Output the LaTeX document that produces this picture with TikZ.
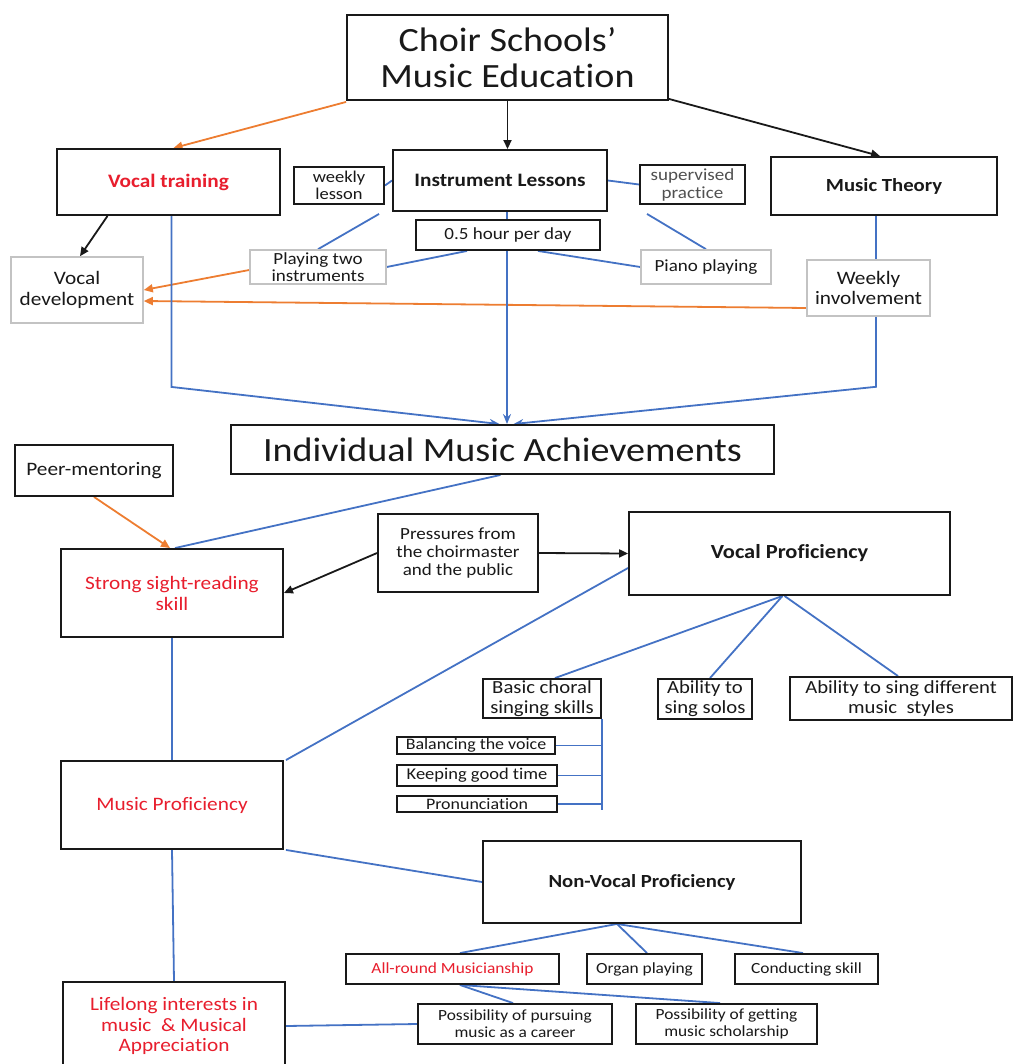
\documentclass[tikz,border=0pt]{standalone}
\usepackage{fontspec}
\setmainfont{Carlito}[FakeStretch=1.12, Ligatures=NoCommon]
\usetikzlibrary{arrows.meta,backgrounds}
\definecolor{ink}{RGB}{25,25,25}
\definecolor{myred}{RGB}{232,30,45}
\definecolor{myorange}{RGB}{237,125,49}
\definecolor{myblue}{RGB}{68,114,196}
\definecolor{mygrey}{RGB}{195,195,195}
\definecolor{softink}{RGB}{80,80,80}
\newcommand\nolig{\kern0pt{}}
\tikzset{
  box/.style={draw=ink, line width=1.9pt, fill=white, inner sep=0pt, align=center, text=ink},
  gbox/.style={box, draw=mygrey, line width=1.6pt},
  fsz/.style 2 args={font=\fontsize{#1}{#2}\selectfont},
  fszb/.style 2 args={font=\fontsize{#1}{#2}\selectfont\bfseries},
  wh/.style 2 args={minimum width=#1pt, minimum height=#2pt},
  redtxt/.style={text=myred},
  bline/.style={draw=myblue, line width=1.8pt},
  barrow/.style={bline, -{Stealth[length=10pt,width=8pt]}},
  karrow/.style={draw=ink, line width=1.8pt, -{Triangle[length=9pt,width=8pt]}},
  oarrow/.style={draw=myorange, line width=1.8pt, -{Triangle[length=9pt,width=8pt]}}
}
\begin{document}
\begin{tikzpicture}[x=1pt,y=-1pt]
\useasboundingbox (0,0) rectangle (1013,1064);
% nodes
\node[box, wh={321}{85}, fsz={34}{36}] (title) at (507.5,57.5) {Choir Schools’\\Music Educat\nolig ion};
\node[box, wh={223}{66}, fszb={19}{21}, redtxt] (vt) at (168.5,182) {Vocal training};
\node[box, wh={90}{37}, fsz={16.5}{17}] (wl) at (339,185.5) {weekly\\lesson};
\node[box, wh={214}{61}, fszb={19}{21}] (il) at (500,180.5) {Instrument Lessons};
\node[box, wh={105}{39}, fsz={17}{18}, text=softink] (sp) at (692.5,184.5) {supervised\\pract\nolig ice};
\node[box, wh={226}{58}, fszb={18.5}{21}] (mt) at (884,186) {Music Theory};
\node[box, wh={184}{30}, fsz={17}{18}] (hpd) at (508,235) {0.5 hour per day};
\node[gbox, wh={136}{34}, fsz={17}{17}] (pti) at (318,267) {Playing two\\instruments};
\node[gbox, wh={130}{34}, fsz={17}{18}] (pp) at (706,267) {Piano playing};
\node[gbox, wh={132}{66}, fsz={19}{21}] (vd) at (77,290) {Vocal\\development};
\node[gbox, wh={123}{56}, fsz={19}{20}] (wi) at (868.5,288) {Weekly\\involvement};
\node[box, wh={543}{49}, fsz={34}{36}] (ima) at (502.5,449.5) {Individual Music Achievements};
\node[box, wh={158}{51}, fsz={19}{21}] (pm) at (94,470.5) {Peer-mentoring};
\node[box, wh={222}{88}, fsz={19}{21}, redtxt] (ssr) at (172,593) {Strong sight-reading\\skill};
\node[box, wh={160}{78}, fsz={17}{18}] (pr) at (458,553) {Pressures from\\the choirmaster\\and the public};
\node[box, wh={321}{83}, fszb={20}{22}] (vp) at (789.5,553.5) {Vocal Proficiency};
\node[box, wh={118}{39}, fsz={18.5}{20}] (bcs) at (542,698.5) {Basic choral\\singing skills};
\node[box, wh={94}{40}, fsz={18.5}{20}] (ats) at (705,699) {Ability to\\sing solos};
\node[box, wh={222}{43}, fsz={18.5}{20}] (asd) at (901,698.5) {Ability to sing different\\music\ \ styles};
\node[box, wh={158}{17}, fsz={16}{17}] (bv) at (476,745.5) {Balancing the voice};
\node[box, wh={160}{21}, fsz={16.5}{17}] (kgt) at (477,775.5) {Keeping good t\nolig ime};
\node[box, wh={160}{16}, fsz={16}{17}] (pron) at (477,804) {Pronunciat\nolig ion};
\node[box, wh={222}{88}, fsz={19}{21}, redtxt] (mp) at (172,805) {Music Proficiency};
\node[box, wh={318}{82}, fszb={18.5}{21}] (nvp) at (642,882) {Non-Vocal Proficiency};
\node[box, wh={213}{30}, fsz={15.5}{17}, redtxt] (arm) at (452.5,969) {All-round Musicianship};
\node[box, wh={115}{30}, fsz={15.5}{17}] (op) at (644.5,969) {Organ playing};
\node[box, wh={143}{30}, fsz={15.5}{17}] (cs) at (806.5,969) {Conduct\nolig ing skill};
\node[box, wh={222}{88}, fsz={19}{20.5}, redtxt] (li) at (174,1026) {Lifelong interests in\\music\ \ \& Musical\\Apprecia\nolig t\nolig ion};
\node[box, wh={194}{40}, fsz={15.5}{17}] (ppc) at (515,1024) {Possibility of pursuing\\music as a career};
\node[box, wh={181}{40}, fsz={15.5}{17}] (pgs) at (726.5,1024) {Possibility of gett\nolig ing\\music scholarship};
% connectors
\begin{scope}[on background layer]
\draw[oarrow] ([yshift=-1pt]title.south west) -- ([xshift=5pt]vt.north);
\draw[karrow] (title.south) -- (title.south |- il.north);
\draw[karrow] ([yshift=2pt]title.south east) -- ([xshift=-4pt]mt.north);
\draw[karrow] ([xshift=-61pt]vt.south) -- ([xshift=3pt]vd.north);
\draw[bline] (wl.east) -- (il.west);
\draw[bline] (il.east) -- (sp.west);
\draw[bline] ([xshift=-13pt,yshift=-2pt]il.south west) -- (pti.north);
\draw[bline] ([xshift=-41pt]hpd.south) -- (pti.east);
\draw[bline] ([xshift=30pt]hpd.south) -- (pp.west);
\draw[bline] ([xshift=8pt,yshift=-9pt]sp.south west) -- (pp.north);
\draw[oarrow] ([yshift=-3pt]pti.west) -- (vd.east);
\draw[oarrow] ([yshift=-20pt]wi.west) -- ([yshift=-11pt]vd.east);
\draw[bline] ([xshift=-8pt]mt.south) -- ([xshift=7.5pt]wi.north);
\draw[barrow] ([xshift=7.5pt]wi.south) -- ([xshift=7.5pt,yshift=-70pt]wi.south) -- ([xshift=11pt]ima.north);
\draw[barrow] ([xshift=3pt]vt.south) -- ([xshift=3pt,yshift=-171pt]vt.south) -- ([xshift=-3pt]ima.north);
\draw[barrow] ([xshift=7pt]il.south) -- ([xshift=7pt]il.south |- ima.north);
\draw[bline] ([xshift=-2pt]ima.south) -- ([xshift=3pt]ssr.north);
\draw[oarrow] (pm.south) -- ([xshift=-2pt]ssr.north);
\draw[karrow] (pr.west) -- (ssr.east);
\draw[karrow] (pr.east) -- (vp.west);
\draw[bline] (ssr.south) -- (mp.north);
\draw[bline] ([xshift=2pt]mp.north east) -- ([yshift=-14.5pt]vp.west);
\draw[bline] ([xshift=-7pt]vp.south) -- ([xshift=13pt]bcs.north);
\draw[bline] ([xshift=-7pt]vp.south) -- ([xshift=5pt]ats.north);
\draw[bline] ([xshift=-5pt]vp.south) -- ([xshift=-3pt]asd.north);
\draw[bline] (bcs.south east) -- ([yshift=-91pt]bcs.south east);
\draw[bline] (bv.east) -- (bv.east -| bcs.south east);
\draw[bline] (kgt.east) -- (kgt.east -| bcs.south east);
\draw[bline] (pron.east) -- (pron.east -| bcs.south east);
\draw[bline] ([xshift=2pt]mp.south east) -- (nvp.west);
\draw[bline] (mp.south) -- (li.north);
\draw[bline] ([xshift=-25pt]nvp.south) -- ([xshift=7.5pt]arm.north);
\draw[bline] ([xshift=-25pt]nvp.south) -- ([xshift=2.5pt]op.north);
\draw[bline] ([xshift=-25pt]nvp.south) -- ([xshift=-3.5pt]cs.north);
\draw[bline] ([xshift=7.5pt]arm.south) -- ([xshift=-2pt]ppc.north);
\draw[bline] ([xshift=7.5pt]arm.south) -- ([xshift=-6.5pt]pgs.north);
\draw[bline] (li.east) -- (ppc.west);
\end{scope}
\end{tikzpicture}
\end{document}
